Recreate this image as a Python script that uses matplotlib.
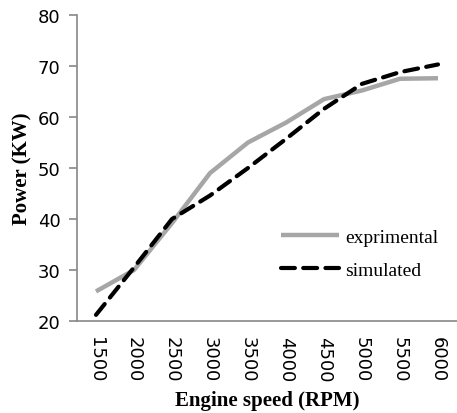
import matplotlib
matplotlib.use('Agg')
import matplotlib.pyplot as plt

# Engine speed categories and power curves (KW)
speeds = ['1500', '2000', '2500', '3000', '3500', '4000', '4500', '5000', '5500', '6000']
experimental = [25.8, 30.0, 39.2, 49.0, 55.0, 58.9, 63.5, 65.2, 67.5, 67.6]
simulated = [21.2, 30.5, 40.0, 44.6, 50.0, 55.7, 61.6, 66.5, 68.8, 70.3]

plt.rcParams['lines.scale_dashes'] = False

fig = plt.figure(figsize=(4.57, 4.14), dpi=100)
ax = fig.add_axes([77 / 457, 1 - 322 / 414, 1 - 77 / 457, (322 - 16) / 414])

x = range(len(speeds))
ax.plot(x, experimental, color='#a6a6a6', linewidth=3.2, label='exprimental',
        solid_capstyle='butt')
ax.plot(x, simulated, color='black', linewidth=3.0, dashes=(10, 6),
        label='simulated', dash_capstyle='round')

ax.set_xlim(-0.5, len(speeds) - 0.5)
ax.set_ylim(20, 80)
ax.set_yticks(range(20, 81, 10))
ax.set_xticks(list(x))
ax.set_xticklabels(speeds, rotation=270, fontsize=13)
ax.tick_params(axis='y', labelsize=13, length=6, color='#888888', width=1.2, pad=6)
ax.tick_params(axis='x', length=0, pad=11)

for side in ['top', 'right']:
    ax.spines[side].set_visible(False)
for side in ['left', 'bottom']:
    ax.spines[side].set_color('#888888')
    ax.spines[side].set_linewidth(1.2)

ax.set_xlabel('Engine speed (RPM)', fontsize=15, fontweight='bold',
              family='Liberation Serif', labelpad=6)
ax.set_ylabel('Power (KW)', fontsize=15, fontweight='bold',
              family='Liberation Serif', labelpad=4)

ax.legend(loc='center left', bbox_to_anchor=(0.49, 0.22), frameon=False,
          prop={'family': 'Liberation Serif', 'size': 14},
          handlelength=3.0, handletextpad=0.3, labelspacing=0.8)

fig.savefig('out.png', dpi=100)
